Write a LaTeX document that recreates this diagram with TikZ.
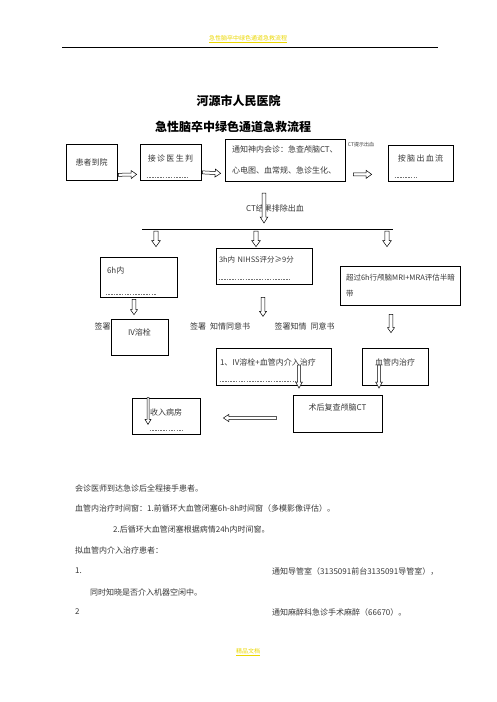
\documentclass[tikz,border=0pt]{standalone}
\usepackage{fontspec}
\setmainfont{Noto Sans CJK SC}
\usetikzlibrary{calc}
\definecolor{hdryellow}{RGB}{235,215,0}
\definecolor{txtgray}{RGB}{55,55,55}
\newcommand{\boxfont}{\fontsize{8}{11}\selectfont}
\newcommand{\tinyfont}{\fontsize{5}{6}\selectfont}
\newcommand{\titlefont}{\fontsize{12}{14}\selectfont\bfseries}

\begin{document}
\begin{tikzpicture}[x=1pt, y=-1pt,
    box/.style={draw, line width=0.7pt, font=\boxfont, text=txtgray, inner sep=3pt},
    arrowdims/.code n args={3}{\def\arsw{#1}\def\arhw{#2}\def\arhl{#3}},
    hollow/.style={arrowdims={1.5pt}{4pt}{5.5pt}, draw, line width=0.5pt, fill=white,
      to path={let \p1=(\tikztostart), \p2=(\tikztotarget), \p3=($(\p2)!\arhl!(\p1)$) in
        ($(\p1)!\arsw!90:(\p2)$) -- ($(\p3)!\arsw!90:(\p2)$) -- ($(\p3)!\arhw!90:(\p2)$) -- (\p2)
        -- ($(\p3)!\arhw!-90:(\p2)$) -- ($(\p3)!\arsw!-90:(\p2)$) -- ($(\p1)!\arsw!-90:(\p2)$) -- cycle}},
    cutline/.style={txtgray!70, line width=0.8pt, dash pattern=on 1.5pt off 1.2pt},
    note/.style={font=\boxfont, text=txtgray, inner sep=0pt},
    para/.style={anchor=west, font=\boxfont, text=txtgray, inner sep=0pt}]
\useasboundingbox (0,0) rectangle (496,702);

% header and footer
\node[font=\fontsize{6}{7}\selectfont, text=hdryellow, inner sep=0pt] (hdr) at (248,38) {急性脑卒中绿色通道急救流程};
\draw[hdryellow, line width=0.6pt] ([yshift=-1pt]hdr.south west) -- ([yshift=-1pt]hdr.south east);
\draw[line width=0.8pt] (62,47.5) -- (438,47.5);
\node[font=\fontsize{6}{7}\selectfont, text=hdryellow, inner sep=0pt] (ftr) at (248,651) {精品文档};
\draw[hdryellow, line width=0.6pt] ([yshift=-1pt]ftr.south west) -- ([yshift=-1pt]ftr.south east);

% titles
\node[font=\titlefont] (org) at (238.5,101) {河源市人民医院};
\node[font=\titlefont] (ttl) at (233,127) {急性脑卒中绿色通道急救流程};

% first row
\node[box, minimum width=51, minimum height=36] (pat) at (91.5,162.5) {患者到院};
\node[box, minimum width=61, minimum height=36, text depth=7pt] (recv) at (170.5,162) {接\,诊\,医\,生\,判};
\node[box, minimum width=120, minimum height=42, text width=106, inner xsep=7pt, align=left] (notify) at (285,160)
    {通知神内会诊：急查颅脑CT、\\[10pt]心电图、血常规、急诊生化、};
\node[box, minimum width=65, minimum height=36, text depth=9pt] (hemo) at (420.5,163) {按\,脑\,出\,血\,流};
\node[font=\tinyfont, text=txtgray, inner sep=0pt] (bleed) at (361,145) {CT提示出血};

\draw[cutline] ([shift={(7pt,3pt)}]recv.south west) -- ++(41,0);
\draw[cutline] ([shift={(7pt,4pt)}]hemo.south west) -- ++(22,0);

\draw[hollow] ([shift={(1pt,6pt)}]pat.south east) to ([shift={(-3pt,6pt)}]recv.south west);
\draw[hollow] ([shift={(1pt,8pt)}]recv.south east) to ([shift={(-4pt,8pt)}]notify.south west);
\draw[hollow] ([shift={(8pt,7pt)}]notify.south east) to ([shift={(-16pt,7pt)}]hemo.south west);

% split after CT
\coordinate (barL) at (142,229);
\coordinate (barR) at (393,229);
\coordinate (split) at (264,229);
\node[note] (excl) at (275,208) {CT结果排除出血};
\draw[hollow, arrowdims={1.8pt}{3.8pt}{6pt}] ([yshift=36pt]split) to ([yshift=6pt]split);
\draw[line width=0.7pt] (barL) -- (barR);

% second row
\node[box, minimum width=77, minimum height=40, text width=63, inner xsep=7pt, align=left, text depth=13pt] (winA) at (138.5,277) {6h内};
\node[box, minimum width=96, minimum height=36, text width=90, inner xsep=3pt, align=left, text depth=13pt, font=\fontsize{7.5}{10}\selectfont] (nihss) at (264,266) {3h内 NIHSS评分≥9分};
\node[box, minimum width=120, minimum height=39, text width=108, inner xsep=6pt, align=left, font=\fontsize{7.5}{10}\selectfont] (mri) at (400,285.5)
    {超过6h行颅脑MRI+MRA评估半暗\\[6pt]带};

\draw[cutline] ([shift={(6pt,3pt)}]winA.south west) -- ++(51,0);
\draw[cutline] ([shift={(3pt,5pt)}]nihss.south west) -- ++(72,0);

\coordinate (tapA) at (156,231);
\coordinate (tapB) at (256,231);
\coordinate (tapC) at (387,231);
\draw[hollow, arrowdims={2.2pt}{4.3pt}{6pt}] (tapA) to ([yshift=1pt]tapA |- nihss.north);
\draw[hollow, arrowdims={2.2pt}{4.3pt}{6pt}] (tapB) to ([yshift=1pt]tapB |- nihss.north);
\draw[hollow, arrowdims={2.2pt}{4.3pt}{6pt}] (tapC) to ([yshift=1pt]tapC |- nihss.north);

% consent
\node[note] (sgnA) at (102.5,326) {签署};
\node[note] (sgnB) at (220,326) {签署\enspace 知情同意书};
\node[note] (sgnC) at (304.5,326) {签署知情\enspace 同意书};

% treatment
\node[box, minimum width=57, minimum height=36, text depth=9pt] (ivt) at (139.5,337) {IV溶栓};
\node[box, minimum width=115, minimum height=37, text width=107, inner xsep=4pt, align=left, text depth=8pt] (bridge) at (273.5,366.5) {1、IV溶栓+血管内介入治疗};
\node[box, minimum width=66, minimum height=37, text depth=8pt] (endo) at (395,366.5) {血管内治疗};
\draw[cutline] ([shift={(4pt,4pt)}]bridge.south west) -- ++(76,0);

\draw[hollow, arrowdims={1.8pt}{3.5pt}{5pt}] ([xshift=-4.5pt,yshift=-2pt]winA.south) to ([xshift=-5.5pt,yshift=4pt]ivt.north);
\draw[hollow, arrowdims={1.8pt}{3.5pt}{5pt}] ($(nihss.south)+(-1,13)$) to ($(nihss.south)+(-1,32)$);
\draw[hollow, arrowdims={1.8pt}{3.5pt}{5pt}] ([xshift=-9pt,yshift=-9pt]mri.south) to ([xshift=-4pt,yshift=15pt]endo.north);

% after treatment
\node[box, minimum width=89, minimum height=37, text depth=12pt] (ctpost) at (337.5,413.5) {术后复查颅脑CT};
\node[box, minimum width=68, minimum height=36, text depth=7pt] (ward) at (166,416) {收入病房};
\draw[cutline] ([shift={(18pt,4pt)}]ward.south west) -- ++(33,0);

\draw[hollow, arrowdims={1.4pt}{3.4pt}{6pt}] ($(bridge.center)+(25.5,-1.5)$) to ($(bridge.center)+(25.5,21.5)$);
\draw[hollow, arrowdims={1.4pt}{3.4pt}{6pt}] ($(endo.center)+(-16,-1.5)$) to ($(endo.center)+(-16,21.5)$);
\draw[hollow, arrowdims={1.4pt}{3.6pt}{5.5pt}] ([xshift=-16pt,yshift=-4.5pt]ctpost.west) to ([xshift=23pt,yshift=-2pt]ward.east);
\draw[hollow, arrowdims={1pt}{3pt}{5pt}] ([xshift=-18pt]ward.north) to ([xshift=-18pt,yshift=10pt]ward.south);

% notes
\node[para] (p1) at (75,488) {会诊医师到达急诊后全程接手患者。};
\node[para] (p2) at (75,508) {血管内治疗时间窗：1.前循环大血管闭塞6h-8h时间窗（多模影像评估）。};
\node[para] (p3) at (113,529) {2.后循环大血管闭塞根据病情24h内时间窗。};
\node[para] (p4) at (75,550) {拟血管内介入治疗患者：};
\node[para] (n1) at (75,571) {1.};
\node[para] (p5) at (272,571) {通知导管室（3135091前台3135091导管室），};
\node[para] (p6) at (90,592) {同时知晓是否介入机器空闲中。};
\node[para] (n2) at (75,612) {2};
\node[para] (p7) at (272,612) {通知麻醉科急诊手术麻醉（66670）。};
\end{tikzpicture}
\end{document}
